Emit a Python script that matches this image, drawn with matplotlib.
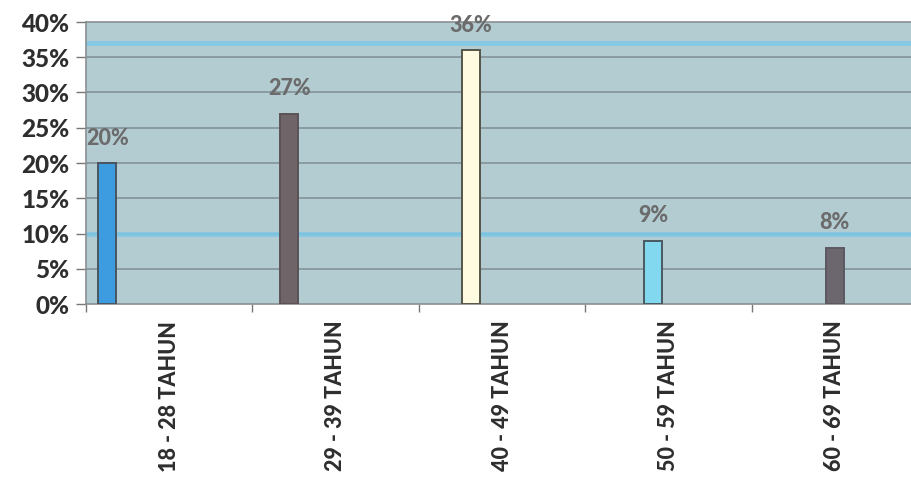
import matplotlib
matplotlib.use("Agg")
import matplotlib.pyplot as plt
from matplotlib.ticker import FixedLocator, FuncFormatter

categories = ["18 - 28 TAHUN", "29 - 39 TAHUN", "40 - 49 TAHUN", "50 - 59 TAHUN", "60 - 69 TAHUN"]
values = [20, 27, 36, 9, 8]
bar_colors = ["#3d9be0", "#6f6569", "#fffbe0", "#82d8ee", "#6c666f"]
edge_colors = ["#4a5560", "#5a5256", "#55554a", "#4a5a60", "#5c5860"]
highlight_lines = [37, 10]

plt.rcParams['font.family'] = ['Lato', 'DejaVu Sans']

fig = plt.figure(figsize=(9.11, 4.90), dpi=100)
ax = fig.add_axes([86/911, 1-304/490, 832/911, 282/490])
ax.set_facecolor("#b3ccd2")

ax.set_ylim(0, 40)
ax.set_xlim(-0.5, len(categories) - 0.5)

for y in range(5, 40, 5):
    ax.axhline(y, color="#7e8e93", lw=1.1, zorder=1)
for y in highlight_lines:
    ax.axhline(y, color="#7cc8e8", lw=3.5, alpha=0.85, zorder=1.5)

n = len(categories)
step = 0.093
for i, (v, c, ec) in enumerate(zip(values, bar_colors, edge_colors)):
    x = i + (i - (n - 1)) * step
    ax.bar(x, v, width=0.108, color=c, edgecolor=ec, linewidth=1.4, zorder=3)
    ax.annotate(f"{v}%", (x, v), xytext=(0, 18), textcoords="offset points",
                ha="center", va="center", fontsize=15.5, fontweight=900,
                color="#6b6b6b", zorder=4)

ax.yaxis.set_major_locator(FixedLocator(range(0, 41, 5)))
ax.yaxis.set_major_formatter(FuncFormatter(lambda v, p: f"{int(v)}%"))
ax.tick_params(axis="y", length=7, width=1, color="#777777", pad=5,
               labelsize=17.5, labelcolor="#2e2e2e")
for t in ax.get_yticklabels():
    t.set_fontweight(900)

ax.set_xticks(range(n))
ax.set_xticklabels(categories, rotation=90, fontsize=15.5, fontweight=900, color="#2e2e2e")
ax.tick_params(axis="x", length=0, pad=12)
ax.set_xticks([i - 0.5 for i in range(n + 1)], minor=True)
ax.tick_params(axis="x", which="minor", length=6, width=1, color="#777777")

for s in ["left", "bottom", "top"]:
    ax.spines[s].set_color("#8a8f92")
    ax.spines[s].set_linewidth(1.2)
ax.spines["right"].set_visible(False)

fig.savefig("out.png", dpi=100, facecolor="white")
